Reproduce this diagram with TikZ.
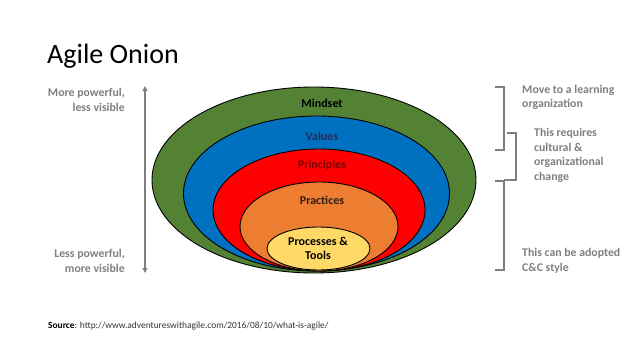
\documentclass[tikz,border=0pt]{standalone}
\usepackage{fontspec}
\setmainfont{Carlito}
\usetikzlibrary{shapes.geometric,arrows.meta}
\definecolor{ggreen}{HTML}{548235}
\definecolor{gblue}{HTML}{0070C0}
\definecolor{gred}{HTML}{FF0000}
\definecolor{gorange}{HTML}{ED7D31}
\definecolor{gyellow}{HTML}{FFD966}
\definecolor{ggray}{HTML}{7F7F7F}
\definecolor{tblue}{HTML}{1F2F55}
\definecolor{tred}{HTML}{7A0000}
\definecolor{tbrown}{HTML}{2E2015}
\tikzset{
  layer/.style={ellipse, draw=black, line width=0.9pt, inner sep=0pt},
  lbl/.style={font=\bfseries\fontsize{12}{13.5}\selectfont, align=center, inner sep=0pt},
  side/.style={font=\bfseries\fontsize{11.8}{14.5}\selectfont, text=ggray, inner sep=0pt},
  brk/.style={draw=ggray, line width=1.6pt},
}
\begin{document}
\begin{tikzpicture}[x=1pt,y=-1pt]
\useasboundingbox (0,0) rectangle (638,359);
\node[anchor=base west, inner sep=0pt, font=\fontsize{28}{30}\selectfont] (title) at (47,63) {Agile Onion};
% onion
\node[layer, fill=ggreen, minimum width=324pt, minimum height=186pt] (mind) at (314,180) {};
\node[layer, fill=gblue, minimum width=266pt, minimum height=155pt] (val) at (316.5,193.5) {};
\node[layer, fill=gred, minimum width=212pt, minimum height=122pt] (prin) at (319,210) {};
\node[layer, fill=gorange, minimum width=158pt, minimum height=89pt] (prac) at (319,226.5) {};
\node[layer, fill=gyellow, minimum width=103pt, minimum height=43pt] (proc) at (318.5,248.5) {};
\node[lbl, text=black] (tmind) at (322,103) {Mindset};
\node[lbl, text=tblue] (tval) at (322,136) {Values};
\node[lbl, text=tred] (tprin) at (322,165) {Principles};
\node[lbl, text=tbrown] (tprac) at (322,200) {Practices};
\node[lbl, text=black] (tproc) at (318,248.5) {Processes \&\\Tools};
% left arrow
\coordinate (atop) at (145,86);
\coordinate (abot) at (145,273);
\draw[ggray, line width=1.6pt, {Triangle[length=5pt,width=5pt]}-{Triangle[length=5pt,width=5pt]}] (atop) -- (abot);
\node[side, anchor=east, align=right] (lt) at (125,100) {More powerful,\\less visible};
\node[side, anchor=east, align=right] (lb) at (125,261) {Less powerful,\\more visible};
% brackets
\coordinate (b1a) at (495,87); \coordinate (b1b) at (504,87);
\coordinate (b1c) at (504,150); \coordinate (b1d) at (495,150);
\draw[brk] (b1a) -- (b1b) -- (b1c) -- (b1d);
\coordinate (b2a) at (507,133); \coordinate (b2b) at (516,133);
\coordinate (b2c) at (516,180); \coordinate (b2d) at (504,180);
\draw[brk] (b2a) -- (b2b) -- (b2c) -- (b2d);
\coordinate (b3a) at (495,181); \coordinate (b3b) at (504,181);
\coordinate (b3c) at (504,270); \coordinate (b3d) at (495,270);
\draw[brk] (b3a) -- (b3b) -- (b3c) -- (b3d);
\node[side, anchor=west, align=left] (r1) at (522,97.5) {Move to a learning\\organization};
\node[side, anchor=west, align=left] (r2) at (534,155.5) {This requires\\cultural \&\\organizational\\change};
\node[side, anchor=west, align=left] (r3) at (522,261) {This can be adopted\\C\&C style};
% source
\node[anchor=base west, inner sep=0pt, font=\fontsize{9.4}{11}\selectfont, text=black!80] (src) at (48,328) {\textbf{\color{black}Source}: http://www.adventureswithagile.com/2016/08/10/what-is-agile/};
\end{tikzpicture}
\end{document}
